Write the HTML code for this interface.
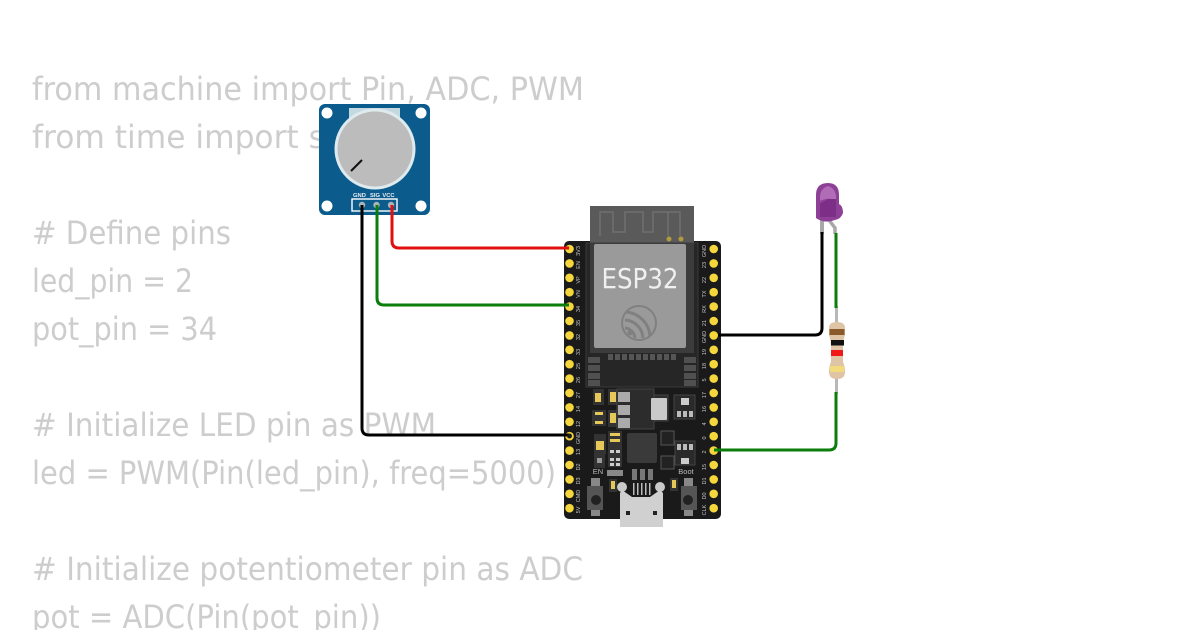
<!DOCTYPE html>
<html><head><meta charset="utf-8"><style>
html,body{margin:0;padding:0;background:#fff;width:1200px;height:630px;overflow:hidden}
svg{display:block}
.c{font-family:"DejaVu Sans","Liberation Sans",sans-serif;font-size:32px;fill:#cdcdcd}
.l{font-family:"Liberation Sans",sans-serif;font-size:5.5px;fill:#c4c4c4;text-anchor:middle}
</style></head><body>
<svg width="1200" height="630" viewBox="0 0 1200 630" xmlns="http://www.w3.org/2000/svg">
<defs>
<circle id="p" r="4.3" fill="#f5d63c"/>
</defs>
<rect width="1200" height="630" fill="#fff"/>
<g class="c">
<text x="32" y="100" textLength="552" lengthAdjust="spacingAndGlyphs">from machine import Pin, ADC, PWM</text>
<text x="32" y="148" textLength="360" lengthAdjust="spacingAndGlyphs">from time import sleep</text>
<text x="32" y="244" textLength="199" lengthAdjust="spacingAndGlyphs"># Define pins</text>
<text x="32" y="292" textLength="161" lengthAdjust="spacingAndGlyphs">led_pin = 2</text>
<text x="32" y="340" textLength="185" lengthAdjust="spacingAndGlyphs">pot_pin = 34</text>
<text x="32" y="436" textLength="404" lengthAdjust="spacingAndGlyphs"># Initialize LED pin as PWM</text>
<text x="32" y="484" textLength="524" lengthAdjust="spacingAndGlyphs">led = PWM(Pin(led_pin), freq=5000)</text>
<text x="32" y="580" textLength="551" lengthAdjust="spacingAndGlyphs"># Initialize potentiometer pin as ADC</text>
<text x="32" y="628" textLength="349" lengthAdjust="spacingAndGlyphs">pot = ADC(Pin(pot_pin))</text>
</g>

<!-- potentiometer -->
<rect x="319" y="104" width="111" height="111" rx="6" fill="#0b5c8c"/>
<circle cx="327" cy="113" r="5.5" fill="#fff"/><circle cx="421" cy="113" r="5.5" fill="#fff"/>
<circle cx="327" cy="206" r="5.5" fill="#fff"/><circle cx="421" cy="206" r="5.5" fill="#fff"/>
<rect x="349" y="108" width="51" height="12" fill="#c4d8e0"/>
<circle cx="375" cy="149" r="40.500" fill="#dfeaee"/>
<circle cx="375" cy="149" r="37.500" fill="#bcbcbc"/>
<line x1="351" y1="171" x2="362" y2="160" stroke="#111" stroke-width="2"/>
<rect x="352" y="199" width="45" height="12" fill="none" stroke="#fff" stroke-width="1.4"/>
<text x="359.500" y="197" font-family="Liberation Sans,sans-serif" font-size="5.8" font-weight="bold" fill="#e8eef2" text-anchor="middle">GND</text>
<text x="375" y="197" font-family="Liberation Sans,sans-serif" font-size="5.8" font-weight="bold" fill="#e8eef2" text-anchor="middle">SIG</text>
<text x="388.500" y="197" font-family="Liberation Sans,sans-serif" font-size="5.8" font-weight="bold" fill="#e8eef2" text-anchor="middle">VCC</text>
<circle cx="362" cy="205" r="3.2" fill="#aab4b8"/><circle cx="376.500" cy="205" r="3.2" fill="#aab4b8"/><circle cx="391" cy="205" r="3.2" fill="#aab4b8"/>

<!-- board -->
<rect x="564" y="241" width="157" height="278" rx="5" fill="#1a1a1a"/>
<rect x="590" y="206" width="104" height="45" fill="#5a5a5a"/>
<path d="M601 236V212H614V232H626V212H644V232H654V212H669V236M669 212H681V236" fill="none" stroke="#707070" stroke-width="1.500" transform="translate(-1,0)"/>
<circle cx="669" cy="239" r="2.500" fill="#b39a3e"/><circle cx="681" cy="239" r="2.500" fill="#b39a3e"/>
<rect x="586" y="243" width="112" height="144" fill="#262626" stroke="#3a3a3a"/>
<rect x="590" y="243" width="104" height="110" fill="#3c3c3c"/>
<rect x="594" y="244" width="92" height="104" rx="2" fill="#9a9a9a"/>
<text x="640" y="288" font-family="DejaVu Sans,Liberation Sans,sans-serif" font-size="28" fill="#f0f0f0" text-anchor="middle" textLength="77" lengthAdjust="spacingAndGlyphs">ESP32</text>
<circle cx="639" cy="323" r="17" fill="none" stroke="#808080" stroke-width="2"/>
<path d="M626 312A26 26 0 0 1 650 336M625 320A19 19 0 0 1 643 338M625 328A11 11 0 0 1 635 338" fill="none" stroke="#808080" stroke-width="3"/>
<circle cx="630" cy="333" r="2.500" fill="#808080"/>
<g fill="#555"><rect x="608" y="354" width="5" height="6"/><rect x="615" y="354" width="5" height="6"/><rect x="622" y="354" width="5" height="6"/><rect x="629" y="354" width="5" height="6"/><rect x="636" y="354" width="5" height="6"/><rect x="643" y="354" width="5" height="6"/><rect x="650" y="354" width="5" height="6"/><rect x="657" y="354" width="5" height="6"/><rect x="664" y="354" width="5" height="6"/><rect x="671" y="354" width="5" height="6"/></g>
<g fill="#505050"><rect x="588" y="357" width="12" height="6"/><rect x="588" y="365" width="12" height="6"/><rect x="588" y="373" width="12" height="6"/><rect x="588" y="380" width="12" height="6"/><rect x="684" y="357" width="12" height="6"/><rect x="684" y="365" width="12" height="6"/><rect x="684" y="373" width="12" height="6"/><rect x="684" y="380" width="12" height="6"/></g>

<!-- components -->
<rect x="593" y="389" width="11" height="16" fill="#333"/><rect x="595" y="393" width="6" height="9" fill="#e6c75a"/>
<rect x="608" y="389" width="11" height="16" fill="#333"/><rect x="610" y="392" width="6" height="10" fill="#e6c75a"/>
<rect x="592" y="410" width="14" height="16" fill="#333"/><rect x="595" y="412" width="8" height="3" fill="#e6c75a"/><rect x="595" y="421" width="8" height="3" fill="#e6c75a"/>
<rect x="608" y="410" width="11" height="17" fill="#333"/><rect x="610" y="413" width="6" height="10" fill="#e6c75a"/>
<rect x="617" y="389" width="37" height="40" fill="#2c2c2c" stroke="#444"/>
<rect x="618" y="392" width="12" height="10" fill="#aaa"/><rect x="618" y="405" width="12" height="10" fill="#aaa"/><rect x="618" y="418" width="12" height="10" fill="#aaa"/>
<rect x="654" y="395" width="14" height="26" fill="#2c2c2c" stroke="#444"/>
<rect x="651" y="398" width="16" height="22" rx="1" fill="#c9c9c9"/>
<rect x="674" y="395" width="21" height="24" fill="#2a2a2a" stroke="#444"/>
<rect x="681" y="398" width="8" height="7" fill="#ccc"/><rect x="677" y="411" width="4" height="6" fill="#bbb"/><rect x="683" y="411" width="4" height="6" fill="#bbb"/><rect x="689" y="411" width="4" height="6" fill="#bbb"/>
<rect x="594" y="434" width="12" height="20" fill="#333"/><rect x="596" y="441" width="8" height="9" fill="#e6c75a"/>
<rect x="594" y="454" width="11" height="14" fill="#333"/><rect x="597" y="458" width="5" height="5" fill="#999"/>
<rect x="608" y="431" width="14" height="36" fill="#333"/>
<g fill="#e6c75a"><rect x="610" y="433" width="10" height="3"/><rect x="610" y="439" width="10" height="3"/></g>
<g fill="#ccc"><rect x="610" y="450" width="4" height="3"/><rect x="616" y="450" width="4" height="3"/><rect x="610" y="458" width="4" height="3"/><rect x="616" y="458" width="4" height="3"/><rect x="610" y="463" width="4" height="3"/><rect x="616" y="463" width="4" height="3"/></g>
<rect x="627" y="433" width="30" height="30" rx="2" fill="#3a3a3a"/>
<rect x="661" y="431" width="13" height="14" fill="#222" stroke="#555"/><rect x="661" y="456" width="13" height="13" fill="#222" stroke="#555"/>
<rect x="675" y="441" width="20" height="24" fill="#2a2a2a" stroke="#444"/>
<rect x="681" y="458" width="8" height="6" fill="#ccc"/><rect x="677" y="444" width="4" height="6" fill="#bbb"/><rect x="683" y="444" width="4" height="6" fill="#bbb"/><rect x="689" y="444" width="4" height="6" fill="#bbb"/>
<rect x="607" y="470" width="16" height="6" fill="#888"/>
<rect x="632" y="469" width="5" height="11" fill="#777"/><rect x="640" y="469" width="5" height="11" fill="#777"/><rect x="648" y="469" width="5" height="11" fill="#777"/>
<rect x="609" y="479" width="8" height="13" fill="#333"/><rect x="611" y="481" width="4" height="8" fill="#e6c75a"/>
<rect x="670" y="478" width="8" height="13" fill="#333"/><rect x="672" y="480" width="4" height="8" fill="#e6c75a"/>
<text x="598" y="474" font-family="Liberation Sans,sans-serif" font-size="7.500" fill="#bbb" text-anchor="middle">EN</text>
<text x="686" y="474" font-family="Liberation Sans,sans-serif" font-size="7.500" fill="#bbb" text-anchor="middle">Boot</text>
<rect x="591" y="478" width="9" height="8" fill="#888"/><rect x="591" y="508" width="9" height="8" fill="#888"/>
<rect x="587" y="486" width="16" height="24" fill="#555"/><circle cx="596" cy="500" r="5" fill="#222"/>
<rect x="684" y="478" width="9" height="8" fill="#888"/><rect x="684" y="508" width="9" height="8" fill="#888"/>
<rect x="681" y="486" width="16" height="24" fill="#555"/><circle cx="688" cy="500" r="5" fill="#222"/>

<!-- USB -->
<g fill="#bbb"><rect x="633" y="483" width="1.500" height="12"/><rect x="637" y="483" width="1.500" height="12"/><rect x="641" y="483" width="1.500" height="12"/><rect x="645" y="483" width="1.500" height="12"/><rect x="649" y="483" width="1.500" height="12"/></g>
<circle cx="622" cy="487" r="5" fill="#c9c9c9"/><circle cx="660" cy="487" r="5" fill="#c9c9c9"/>
<path d="M622 490L632 497H650L660 490L663 493V527H620V493Z" fill="#d0d0d0"/>
<rect x="626" y="511" width="4" height="4" fill="#222"/><rect x="653" y="511" width="4" height="4" fill="#222"/>

<!-- pin labels -->
<g class="l">
<text transform="translate(580,251) rotate(-90)">3V3</text>
<text transform="translate(580,265) rotate(-90)">EN</text>
<text transform="translate(580,280) rotate(-90)">VP</text>
<text transform="translate(580,294) rotate(-90)">VN</text>
<text transform="translate(580,309) rotate(-90)">34</text>
<text transform="translate(580,323) rotate(-90)">35</text>
<text transform="translate(580,337) rotate(-90)">32</text>
<text transform="translate(580,352) rotate(-90)">33</text>
<text transform="translate(580,366) rotate(-90)">25</text>
<text transform="translate(580,380) rotate(-90)">26</text>
<text transform="translate(580,395) rotate(-90)">27</text>
<text transform="translate(580,409) rotate(-90)">14</text>
<text transform="translate(580,424) rotate(-90)">12</text>
<text transform="translate(580,438) rotate(-90)">GND</text>
<text transform="translate(580,452) rotate(-90)">13</text>
<text transform="translate(580,467) rotate(-90)">D2</text>
<text transform="translate(580,481) rotate(-90)">D3</text>
<text transform="translate(580,496) rotate(-90)">CMD</text>
<text transform="translate(580,510) rotate(-90)">5V</text>
<text transform="translate(706,251) rotate(-90)">GND</text>
<text transform="translate(706,265) rotate(-90)">23</text>
<text transform="translate(706,280) rotate(-90)">22</text>
<text transform="translate(706,294) rotate(-90)">TX</text>
<text transform="translate(706,309) rotate(-90)">RX</text>
<text transform="translate(706,323) rotate(-90)">21</text>
<text transform="translate(706,337) rotate(-90)">GND</text>
<text transform="translate(706,352) rotate(-90)">19</text>
<text transform="translate(706,366) rotate(-90)">18</text>
<text transform="translate(706,380) rotate(-90)">5</text>
<text transform="translate(706,395) rotate(-90)">17</text>
<text transform="translate(706,409) rotate(-90)">16</text>
<text transform="translate(706,424) rotate(-90)">4</text>
<text transform="translate(706,438) rotate(-90)">0</text>
<text transform="translate(706,452) rotate(-90)">2</text>
<text transform="translate(706,467) rotate(-90)">15</text>
<text transform="translate(706,481) rotate(-90)">D1</text>
<text transform="translate(706,496) rotate(-90)">D0</text>
<text transform="translate(706,510) rotate(-90)">CLK</text>
</g>

<!-- pins -->
<g>
<use href="#p" x="569.500" y="249"/><use href="#p" x="569.500" y="263.400"/><use href="#p" x="569.500" y="277.800"/><use href="#p" x="569.500" y="292.200"/><use href="#p" x="569.500" y="306.600"/><use href="#p" x="569.500" y="321"/><use href="#p" x="569.500" y="335.400"/><use href="#p" x="569.500" y="349.800"/><use href="#p" x="569.500" y="364.200"/><use href="#p" x="569.500" y="378.600"/><use href="#p" x="569.500" y="393"/><use href="#p" x="569.500" y="407.400"/><use href="#p" x="569.500" y="421.800"/><use href="#p" x="569.500" y="436.200"/><use href="#p" x="569.500" y="450.600"/><use href="#p" x="569.500" y="465"/><use href="#p" x="569.500" y="479.400"/><use href="#p" x="569.500" y="493.800"/><use href="#p" x="569.500" y="508.200"/>
<use href="#p" x="713.700" y="249"/><use href="#p" x="713.700" y="263.400"/><use href="#p" x="713.700" y="277.800"/><use href="#p" x="713.700" y="292.200"/><use href="#p" x="713.700" y="306.600"/><use href="#p" x="713.700" y="321"/><use href="#p" x="713.700" y="335.400"/><use href="#p" x="713.700" y="349.800"/><use href="#p" x="713.700" y="364.200"/><use href="#p" x="713.700" y="378.600"/><use href="#p" x="713.700" y="393"/><use href="#p" x="713.700" y="407.400"/><use href="#p" x="713.700" y="421.800"/><use href="#p" x="713.700" y="436.200"/><use href="#p" x="713.700" y="450.600"/><use href="#p" x="713.700" y="465"/><use href="#p" x="713.700" y="479.400"/><use href="#p" x="713.700" y="493.800"/><use href="#p" x="713.700" y="508.200"/>
</g>

<!-- resistor -->
<rect x="835" y="306" width="3" height="88" fill="#b8b8b8"/>
<path d="M829 328Q829 322 837 322Q845 322 845 328V335Q843 340 843 348V362Q845 366 845 372Q845 379 837 379Q829 379 829 372Q829 366 831 362V348Q831 340 829 335Z" fill="#dfc4a6"/>
<rect x="829.500" y="329" width="15" height="6" fill="#8a5a2b"/>
<rect x="831" y="340" width="13" height="5.500" fill="#111"/>
<rect x="831" y="350" width="12" height="6" fill="#f01818"/>
<rect x="830" y="366" width="14" height="6" fill="#f2db7c"/>

<!-- LED -->
<rect x="820" y="220" width="4" height="14" fill="#a8a8a8"/>
<path d="M829 220L835 228V234" fill="none" stroke="#a8a8a8" stroke-width="3.500"/>
<path d="M816 195Q816 183 828 183Q839 183 839 195V204Q843 206 843 213Q841 219 835 220Q824 224 816 218Z" fill="#8e3f96"/>
<path d="M820 196Q821 188 828 186Q835 188 836 196V200Q828 197 820 201Z" fill="#b06cb6"/>
<path d="M820 204L828 199H836V217H820Z" fill="#7b2f86"/>

<!-- wires -->
<g fill="none" stroke-width="3">
<path d="M392 205V241Q392 248 399 248H569" stroke="#e01010"/>
<path d="M377 205V298Q377 305 384 305H569" stroke="#0a7d0a"/>
<path d="M362 205V428Q362 435 369 435H569" stroke="#000"/>
<path d="M718 335H815Q822 335 822 328V232" stroke="#000"/>
<path d="M714 450H829Q836 450 836 443V392" stroke="#0a7d0a"/>
<path d="M836 233V308" stroke="#0a7d0a"/>
</g>
<circle cx="713.700" cy="335.400" r="2" fill="#f5d63c"/><circle cx="569.500" cy="436" r="2.500" fill="#1a1a1a"/>
</svg>
</body></html>
